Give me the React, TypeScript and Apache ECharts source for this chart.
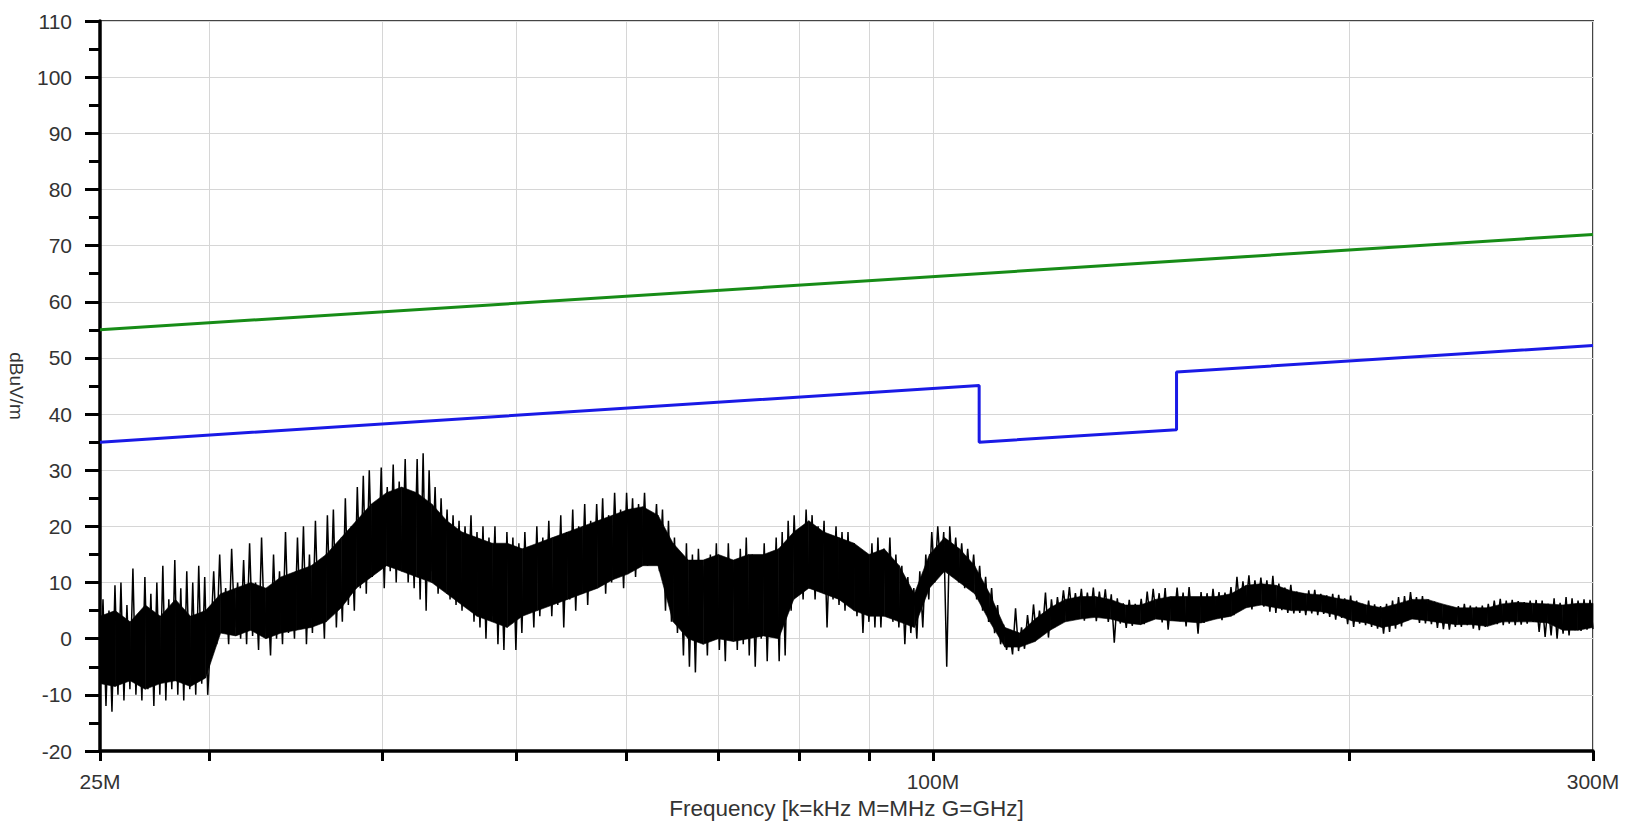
import React, { useEffect, useRef } from "react";
import * as echarts from "echarts";

// Axis definition (MHz)
const freqMinMHz = 25;
const freqMaxMHz = 300;
const xTickFreqMHz = [25, 30, 40, 50, 60, 70, 80, 90, 100, 200, 300];
const xLabelFreqMHz = [25, 100, 300];
const yMin = -20;
const yMax = 110;
const yStep = 10;

// Limit lines
const greenFreqMHz = [25, 300];
const greenLevel = [55, 72];
const blueFreqMHz = [25, 108, 108, 150, 150, 300];
const blueLevel = [35, 45.1, 35, 37.2, 47.5, 52.2];

// Dense core of the measured trace (solid black band), 100 sweep points from 25 MHz to 300 MHz
const coreTop = [
  4, 5, 3, 6, 4, 7, 4, 5, 8, 9,
  10, 9, 11, 12, 13, 15, 18, 21, 24, 26,
  27, 26, 24, 21, 19, 18, 17, 17, 16, 17,
  18, 19, 20, 21, 22, 23, 23.5, 22, 17, 14,
  14, 15, 14, 15, 15, 16, 19, 21, 19, 18,
  17, 15, 16, 13, 8, 15, 18, 16, 13, 8,
  2, 1, 3.5, 5.5, 7, 7.5, 7.5, 7, 6, 6,
  7, 7.5, 7.5, 7.5, 7.5, 8, 9.5, 9.8, 9.5, 8.5,
  8, 7.8, 7.2, 6.8, 6, 5.5, 6.2, 7, 7, 6.2,
  5.5, 5.5, 5.5, 6.2, 6.5, 6.3, 6.2, 6, 6.3, 6.3,
];
const coreBottom = [
  -8, -8.5, -7.5, -9, -8, -7.5, -8.5, -7, 1, 0.5,
  1.5, 0, 1, 1.5, 2, 3, 5.5, 9, 11, 13,
  12, 11, 10, 8, 6, 4, 3, 2, 4, 5,
  6, 7, 8, 9, 10.5, 11.5, 13, 13, 3, 0,
  -1, 0, -0.5, 0, 0.5, 0, 7, 9, 8, 7,
  5, 4, 4, 3, 2, 9, 12, 10, 8, 3,
  -1.5, -1.5, -0.5, 1.5, 3, 3.5, 3.8, 3.5, 2.8, 2.5,
  3.5, 3.2, 3, 2.8, 3.5, 4, 5.5, 6, 5.5, 5,
  5, 4.8, 4.2, 3.2, 2.8, 2, 2.5, 3.5, 3.2, 2.8,
  2.5, 2.5, 2.2, 3, 3, 3, 2.8, 1.5, 1.5, 2,
];

// Measured trace peaks/dips (dBuV/m), 500 sweep points from 25 MHz to 300 MHz
const traceLevel = [
  -9, 7, -12, 5, -13, 9.5, -10, 10, -11, 6,
  -9, 12.5, -10, 4, -11, 11, -9, 8, -12, 10,
  -10, 13, -11, 7, -9, 14, -10, 9, -11, 12,
  -9, 10, -10, 13, -8, 11, -10, 0, 12, -1,
  15, 1, 9, -1, 16, 2, 10, 0, 14, -1,
  17, 0.5, 10, -2, 18, 1, 9, -3, 15, 0,
  12, -1, 19, 1, 11, 0, 18, 2, 20, -1,
  15, 1, 21, 3, 14, 0, 22, 4, 23, 2,
  17, 3, 25, 6, 20, 5, 27, 9, 29, 8,
  30, 11, 24, 13, 30.5, 9, 27, 12, 31, 10,
  28, 12, 32, 10, 26, 9, 32, 7, 33, 5,
  30, 12, 27, 8, 25, 10, 23, 7, 22, 6,
  21, 5, 20, 8, 22, 3, 19, 2, 20, 0,
  18, 4, 20, -1, 16, -2, 19, 3, 18, -2,
  17, 1, 19, 5, 16, 2, 20, 4, 18, 6,
  21, 4, 18, 6, 22, 2, 19, 7, 23, 5,
  20, 8, 24, 6, 21, 9, 24, 10, 25, 8,
  22, 10, 26, 12, 23, 9, 26, 13, 25, 11,
  24, 14, 26, 13, 22, 15, 24, 12, 23, 5,
  21, 3, 18, 1, 14, -3, 17, -5, 15, -6,
  16, 2, 13, -3, 15, 0, 17, -2, 12, -4,
  17, 1, 14, -2, 16, -1, 18, -3, 15, -5,
  13, 0, 17, -4, 15, 2, 18, -4, 19, -3,
  21, 5, 22, 8, 19, 7, 23, 9, 22, 7,
  20, 9, 21, 2, 18, 7, 20, 6, 19, 5,
  19, 6, 17, 4, 15, 1, 14, 3, 17, 2,
  18, 2, 16, 4, 18, 3, 15, 2, 13, -1,
  11, 1, 9, 0, 12, 2, 15, 7, 19, 10,
  20, 12, 19, -5, 20, 11, 18, 10, 17, 9,
  16, 9, 15, 7, 13, 5, 11, 3, 9, 1,
  6, -1, 2.5, -2, 1.2, -2.8, 5.4, -2.2, 2, -1.8,
  4.2, -0.6, 6.1, 0.3, 5, 1.1, 8.2, 0.2, 7, 2,
  7.4, 3.3, 8.6, 4.1, 9.2, 3.6, 8.1, 4.4, 8.9, 3.2,
  8.2, 4, 9.1, 3.1, 8.4, 4.2, 8.8, 3, 7.9, -0.7,
  7.2, 2.7, 6.3, 1.9, 6.9, 2.3, 6.2, 2.8, 7.1, 2.6,
  8.4, 3.3, 8.9, 3.8, 8.1, 2.9, 9, 1.6, 7.3, 3.7,
  9.1, 3.1, 8.2, 2.2, 9.2, 3.3, 7.4, 0.9, 8.3, 2.8,
  8.1, 3.4, 8.9, 4, 8.3, 3.3, 8.2, 3.9, 9.2, 4.2,
  11, 5.1, 10.2, 5.8, 11.3, 5.2, 10.4, 6.2, 10.9, 5.7,
  10.4, 4.8, 11.2, 4.6, 9.8, 5.1, 9.1, 4.6, 9.6, 4.5,
  8.4, 4.6, 8.1, 4.2, 8.6, 4.5, 8.7, 4.2, 8, 4.4,
  7.7, 3.9, 8, 3.4, 7.8, 3.7, 7.2, 2.6, 7.7, 2.1,
  6.8, 2.7, 6.2, 2.4, 6.8, 2.1, 6.1, 1.8, 5.8, 0.9,
  6.2, 1.2, 6.8, 1.8, 7.4, 2.2, 7.6, 3.2, 8.3, 3.9,
  7.4, 2.8, 7.6, 2.7, 7, 2.6, 6.6, 1.9, 6.2, 1.7,
  5.7, 1.6, 5.4, 2.1, 5.8, 2.1, 6.2, 2.4, 5.9, 1.8,
  5.7, 1.5, 5.9, 2.1, 6.2, 2.7, 6.8, 2.6, 7.1, 2.4,
  6.8, 2.7, 6.9, 2.4, 6.7, 2.5, 6.5, 2.7, 6.8, 3,
  6.9, 1.2, 6.8, 0.3, 6.2, 0.6, 7.2, 0, 6.4, 0.9,
  7.4, 0.6, 7.2, 1.5, 6.8, 1.4, 7, 1.6, 6.9, 1.7,
];

const L = (f: number) => Math.log10(f);

export default function App() {
  const ref = useRef<HTMLDivElement>(null);

  useEffect(() => {
    if (!ref.current) return;
    const chart = echarts.init(ref.current, undefined, { renderer: "svg" });
    const font = "'Liberation Sans', Arial, sans-serif";
    const textColor = "#333333";

    // One quad per pair of neighbouring core sweep points
    const coreSegments = coreTop.slice(0, -1).map((t, k) => [
      k,
      t,
      coreBottom[k],
      k + 1,
      coreTop[k + 1],
      coreBottom[k + 1],
    ]);

    chart.setOption({
      animation: false,
      backgroundColor: "#ffffff",
      grid: {
        left: 100,
        right: 39,
        top: 21,
        bottom: 72,
        show: true,
        borderColor: "#444444",
        borderWidth: 2,
        backgroundColor: "transparent",
        outerBoundsMode: "none",
      },
      xAxis: [
        {
          type: "value",
          min: L(freqMinMHz),
          max: L(freqMaxMHz),
          name: "Frequency [k=kHz M=MHz G=GHz]",
          nameLocation: "middle",
          nameGap: 43,
          nameTextStyle: { fontFamily: font, fontSize: 22.5, color: textColor },
          axisLine: { onZero: false, lineStyle: { color: "#000", width: 3.5 } },
          axisTick: {
            show: true,
            length: 10,
            customValues: xTickFreqMHz.map(L),
            lineStyle: { color: "#000", width: 3 },
          },
          axisLabel: {
            customValues: xLabelFreqMHz.map(L),
            formatter: (v: number) => `${Math.round(Math.pow(10, v))}M`,
            fontFamily: font,
            fontSize: 21,
            color: textColor,
            margin: 20,
          },
          splitLine: { show: true, lineStyle: { color: "#d6d6d6", width: 1 } },
        },
        {
          type: "category",
          data: traceLevel.map((_, i) => i),
          boundaryGap: false,
          show: false,
        },
        {
          type: "category",
          data: coreTop.map((_, k) => k),
          boundaryGap: false,
          show: false,
        },
      ],
      yAxis: {
        type: "value",
        min: yMin,
        max: yMax,
        interval: yStep,
        name: "dBuV/m",
        nameLocation: "middle",
        nameRotate: -90,
        nameGap: 66,
        nameTextStyle: { fontFamily: font, fontSize: 19, color: textColor },
        axisLine: { show: true, onZero: false, lineStyle: { color: "#000", width: 3.5 } },
        axisTick: { show: true, length: 15, lineStyle: { color: "#000", width: 3 } },
        minorTick: { show: true, splitNumber: 2, length: 11, lineStyle: { color: "#000", width: 3 } },
        axisLabel: { fontFamily: font, fontSize: 21, color: textColor, margin: 28 },
        splitLine: { show: true, lineStyle: { color: "#d6d6d6", width: 1 } },
      },
      series: [
        {
          name: "Core",
          type: "custom",
          xAxisIndex: 2,
          yAxisIndex: 0,
          data: coreSegments,
          encode: { x: [0, 3], y: [1, 2, 4, 5] },
          renderItem: (_params: any, api: any) => {
            const p1 = api.coord([api.value(0), api.value(1)]);
            const p2 = api.coord([api.value(3), api.value(4)]);
            const p3 = api.coord([api.value(3), api.value(5)]);
            const p4 = api.coord([api.value(0), api.value(2)]);
            return {
              type: "polygon",
              shape: { points: [p1, p2, p3, p4] },
              style: { fill: "#000", stroke: "#000", lineWidth: 0.6 },
            };
          },
          z: 2,
          silent: true,
        },
        {
          name: "Trace",
          type: "line",
          xAxisIndex: 1,
          data: traceLevel,
          symbol: "none",
          lineStyle: { color: "#000000", width: 1.5 },
          z: 2,
          silent: true,
        },
        {
          name: "Limit B",
          type: "line",
          xAxisIndex: 0,
          data: blueFreqMHz.map((f, i) => [L(f), blueLevel[i]]),
          symbol: "none",
          lineStyle: { color: "#1a1ae6", width: 3 },
          z: 3,
          silent: true,
        },
        {
          name: "Limit A",
          type: "line",
          xAxisIndex: 0,
          data: greenFreqMHz.map((f, i) => [L(f), greenLevel[i]]),
          symbol: "none",
          lineStyle: { color: "#178c17", width: 3 },
          z: 3,
          silent: true,
        },
      ],
    });

    return () => chart.dispose();
  }, []);

  return (
    <div
      ref={ref}
      style={{ position: "fixed", left: 0, top: 0, width: 1632, height: 823, background: "#fff" }}
    />
  );
}
